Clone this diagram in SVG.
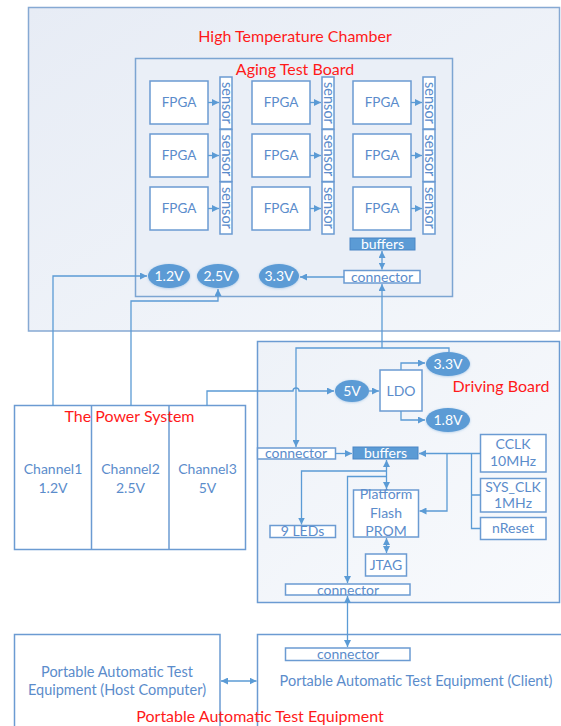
<svg xmlns="http://www.w3.org/2000/svg" width="561" height="726" viewBox="0 0 561 726">
<defs>
<linearGradient id="gch" x1="0" y1="0" x2="1" y2="1">
<stop offset="0" stop-color="#e7ecf5"/>
<stop offset="1" stop-color="#f4f7fb"/>
</linearGradient>
<linearGradient id="gdb" x1="0" y1="0" x2="1" y2="1">
<stop offset="0" stop-color="#eef2f8"/>
<stop offset="1" stop-color="#f8fafd"/>
</linearGradient>
<marker id="ah" viewBox="0 0 10 10" refX="10" refY="5" markerWidth="7" markerHeight="7" markerUnits="userSpaceOnUse" orient="auto-start-reverse">
<path d="M0,0 L10,5 L0,10 z" fill="#5b9bd5"/>
</marker>
<filter id="glow" x="-30%" y="-40%" width="160%" height="180%">
<feDropShadow dx="0" dy="0.5" stdDeviation="1.2" flood-color="#5b9bd5" flood-opacity="0.5"/>
</filter>
</defs>
<style>
text{font-family:Lato,"Open Sans","Liberation Sans",sans-serif;}
.frame{stroke:#86a9d3;stroke-width:1.5;}
.box{fill:#ffffff;stroke:#6b9bd2;stroke-width:1.5;}
.t{fill:#5b8ccb;font-size:14px;text-anchor:middle;}
.f{font-size:13.5px;}
.big{font-size:14.5px;}
.red{fill:#ff1a1a;font-size:16px;text-anchor:middle;}
.buf{fill:#5b9bd5;stroke:#4a86c5;stroke-width:1;}
.wt{fill:#ffffff;font-size:14px;text-anchor:middle;}
.el{fill:#5b9bd5;filter:url(#glow);}
.ln{fill:none;stroke:#5b9bd5;stroke-width:1.3;}
.arr{marker-end:url(#ah);}
.dbl{marker-start:url(#ah);marker-end:url(#ah);}
</style>

<g id="chamber">
<rect x="28.5" y="7.5" width="531" height="323.5" fill="url(#gch)" class="frame"/>
<text x="295" y="42" class="red">High Temperature Chamber</text>
</g>

<g id="aging-board">
<rect x="135.5" y="58.5" width="317" height="238" fill="#eaeff7" stroke="#7ca5d2" stroke-width="1.5"/>
<text x="295" y="75" class="red">Aging Test Board</text>
</g>

<g id="fpga-1-1"><rect x="150" y="81" width="58" height="43" class="box"/><text x="179" y="107" class="t f">FPGA</text></g>
<g id="fpga-1-2"><rect x="252" y="81" width="58" height="43" class="box"/><text x="281" y="107" class="t f">FPGA</text></g>
<g id="fpga-1-3"><rect x="353" y="81" width="58" height="43" class="box"/><text x="382" y="107" class="t f">FPGA</text></g>
<g id="fpga-2-1"><rect x="150" y="134" width="58" height="43" class="box"/><text x="179" y="160" class="t f">FPGA</text></g>
<g id="fpga-2-2"><rect x="252" y="134" width="58" height="43" class="box"/><text x="281" y="160" class="t f">FPGA</text></g>
<g id="fpga-2-3"><rect x="353" y="134" width="58" height="43" class="box"/><text x="382" y="160" class="t f">FPGA</text></g>
<g id="fpga-3-1"><rect x="150" y="187" width="58" height="43" class="box"/><text x="179" y="213" class="t f">FPGA</text></g>
<g id="fpga-3-2"><rect x="252" y="187" width="58" height="43" class="box"/><text x="281" y="213" class="t f">FPGA</text></g>
<g id="fpga-3-3"><rect x="353" y="187" width="58" height="43" class="box"/><text x="382" y="213" class="t f">FPGA</text></g>

<g id="sensor-1-1"><rect x="220" y="77" width="12" height="52" class="box"/><text transform="translate(221.5,103) rotate(90)" class="t big">sensor</text></g>
<g id="sensor-1-2"><rect x="322" y="77" width="12" height="52" class="box"/><text transform="translate(323.5,103) rotate(90)" class="t big">sensor</text></g>
<g id="sensor-1-3"><rect x="423" y="77" width="12" height="52" class="box"/><text transform="translate(424.5,103) rotate(90)" class="t big">sensor</text></g>
<g id="sensor-2-1"><rect x="220" y="129.5" width="12" height="52" class="box"/><text transform="translate(221.5,155.5) rotate(90)" class="t big">sensor</text></g>
<g id="sensor-2-2"><rect x="322" y="129.5" width="12" height="52" class="box"/><text transform="translate(323.5,155.5) rotate(90)" class="t big">sensor</text></g>
<g id="sensor-2-3"><rect x="423" y="129.5" width="12" height="52" class="box"/><text transform="translate(424.5,155.5) rotate(90)" class="t big">sensor</text></g>
<g id="sensor-3-1"><rect x="220" y="182" width="12" height="52" class="box"/><text transform="translate(221.5,208) rotate(90)" class="t big">sensor</text></g>
<g id="sensor-3-2"><rect x="322" y="182" width="12" height="52" class="box"/><text transform="translate(323.5,208) rotate(90)" class="t big">sensor</text></g>
<g id="sensor-3-3"><rect x="423" y="182" width="12" height="52" class="box"/><text transform="translate(424.5,208) rotate(90)" class="t big">sensor</text></g>

<g id="aging-buffers"><rect x="350" y="238" width="65" height="12" class="buf"/><text x="382.5" y="248.5" class="wt">buffers</text></g>
<g id="aging-connector"><rect x="344" y="270.5" width="76" height="12.5" class="box"/><text x="382" y="281.5" class="t">connector</text></g>
<g id="v12"><ellipse cx="169" cy="276" rx="21" ry="12" class="el"/><text x="169" y="281" class="wt" font-size="14.5px">1.2V</text></g>
<g id="v25"><ellipse cx="218" cy="276" rx="21" ry="12" class="el"/><text x="218" y="281" class="wt" font-size="14.5px">2.5V</text></g>
<g id="v33a"><ellipse cx="279" cy="276" rx="20" ry="12" class="el"/><text x="279" y="281" class="wt" font-size="14.5px">3.3V</text></g>

<g id="driving-board">
<rect x="257.5" y="341.5" width="302" height="261" fill="url(#gdb)" stroke="#6b9bd2" stroke-width="1.5"/>
<text x="501" y="392" class="red">Driving Board</text>
</g>
<g id="v5"><ellipse cx="352" cy="391" rx="17" ry="11" class="el"/><text x="352" y="396" class="wt" font-size="14.5px">5V</text></g>
<g id="ldo"><rect x="380" y="370" width="42" height="41" class="box"/><text x="401" y="396" class="t">LDO</text></g>
<g id="v33b"><ellipse cx="448" cy="364" rx="22" ry="12" class="el"/><text x="448" y="369" class="wt" font-size="14.5px">3.3V</text></g>
<g id="v18"><ellipse cx="448" cy="420" rx="22" ry="12" class="el"/><text x="448" y="425" class="wt" font-size="14.5px">1.8V</text></g>
<g id="drv-connector-top"><rect x="257.5" y="448" width="78" height="11" class="box"/><text x="296" y="458" class="t">connector</text></g>
<g id="drv-buffers"><rect x="353" y="447" width="65" height="12" class="buf"/><text x="385.5" y="457.5" class="wt">buffers</text></g>
<g id="cclk"><rect x="480.5" y="434.5" width="65.5" height="37.5" class="box"/><text x="513" y="449" class="t">CCLK</text><text x="513" y="466" class="t">10MHz</text></g>
<g id="sysclk"><rect x="480.5" y="478.5" width="65.5" height="33.5" class="box"/><text x="513" y="492" class="t">SYS_CLK</text><text x="513" y="508" class="t">1MHz</text></g>
<g id="nreset"><rect x="480.5" y="517.5" width="65.5" height="22" class="box"/><text x="513" y="533" class="t">nReset</text></g>
<g id="prom"><rect x="353.5" y="490" width="65" height="47" class="box"/><text x="386" y="499" class="t">Platform</text><text x="386" y="518" class="t">Flash</text><text x="386" y="536" class="t">PROM</text></g>
<g id="leds"><rect x="270" y="525.5" width="65.5" height="12" class="box"/><text x="302.5" y="536" class="t">9 LEDs</text></g>
<g id="jtag"><rect x="365.5" y="554" width="41" height="22" class="box"/><text x="386" y="570" class="t">JTAG</text></g>
<g id="drv-connector-bottom"><rect x="285.5" y="584" width="124.5" height="11" class="box"/><text x="348" y="594.5" class="t">connector</text></g>

<g id="power-system">
<rect x="14.5" y="405.5" width="231" height="144" class="box"/>
<line x1="91.5" y1="405.5" x2="91.5" y2="549.5" stroke="#6b9bd2" stroke-width="1.5"/>
<line x1="169" y1="405.5" x2="169" y2="549.5" stroke="#6b9bd2" stroke-width="1.5"/>
<text x="129.5" y="422" class="red">The Power System</text>
<text x="53" y="474" class="t">Channel1</text><text x="53" y="493" class="t">1.2V</text>
<text x="130.5" y="474" class="t">Channel2</text><text x="130.5" y="493" class="t">2.5V</text>
<text x="207.5" y="474" class="t">Channel3</text><text x="207.5" y="493" class="t">5V</text>
</g>

<g id="host">
<rect x="14.5" y="634.5" width="205.5" height="100" class="box"/>
<text x="117" y="677" class="t big">Portable Automatic Test</text>
<text x="117" y="695" class="t big">Equipment (Host Computer)</text>
</g>
<g id="client">
<rect x="257.5" y="634.5" width="310" height="100" class="box"/>
<text x="416" y="686" class="t big">Portable Automatic Test Equipment (Client)</text>
</g>
<g id="client-connector"><rect x="285.5" y="648" width="124.5" height="12.5" class="box"/><text x="348" y="659" class="t">connector</text></g>
<g id="pate-label"><text x="260" y="722" class="red" font-size="16.5px">Portable Automatic Test Equipment</text></g>

<g id="connectors">
<path class="ln arr" d="M208,102.5 H219"/>
<path class="ln arr" d="M310,102.5 H321"/>
<path class="ln arr" d="M411,102.5 H422"/>
<path class="ln arr" d="M208,155.5 H219"/>
<path class="ln arr" d="M310,155.5 H321"/>
<path class="ln arr" d="M411,155.5 H422"/>
<path class="ln arr" d="M208,208.5 H219"/>
<path class="ln arr" d="M310,208.5 H321"/>
<path class="ln arr" d="M411,208.5 H422"/>
<path class="ln dbl" d="M382,251 V269.5"/>
<path class="ln arr" d="M344,277 H300"/>
<path class="ln arr" d="M53,406 V276 H147"/>
<path class="ln arr" d="M131,406 V301 H218 V289"/>
<path class="ln arr" d="M382,348 V284"/>
<path class="ln arr" d="M449,352 V348 H296 V447"/>
<path class="ln arr" d="M207,406 V391 H293 a3,3 0 0 1 6,0 H334"/>
<path class="ln arr" d="M369,391 H379"/>
<path class="ln arr" d="M401,370 V363 H425"/>
<path class="ln arr" d="M401,411 V420 H425"/>
<path class="ln arr" d="M335.5,453.5 H352"/>
<path class="ln arr" d="M480.5,453.5 H419"/>
<path class="ln" d="M471.5,453.5 V528.5 H480.5 M471.5,495 H480.5"/>
<path class="ln arr" d="M447,453.5 V511 H419.5"/>
<path class="ln dbl" d="M386.5,460 V489"/>
<path class="ln arr" d="M386.5,471 H301.5 V524.5"/>
<path class="ln arr" d="M386.5,476.5 H347.5 V583"/>
<path class="ln dbl" d="M386.5,538 V553"/>
<path class="ln dbl" d="M347.5,596 V647"/>
<path class="ln dbl" d="M221,681 H256.5"/>
</g>
</svg>
